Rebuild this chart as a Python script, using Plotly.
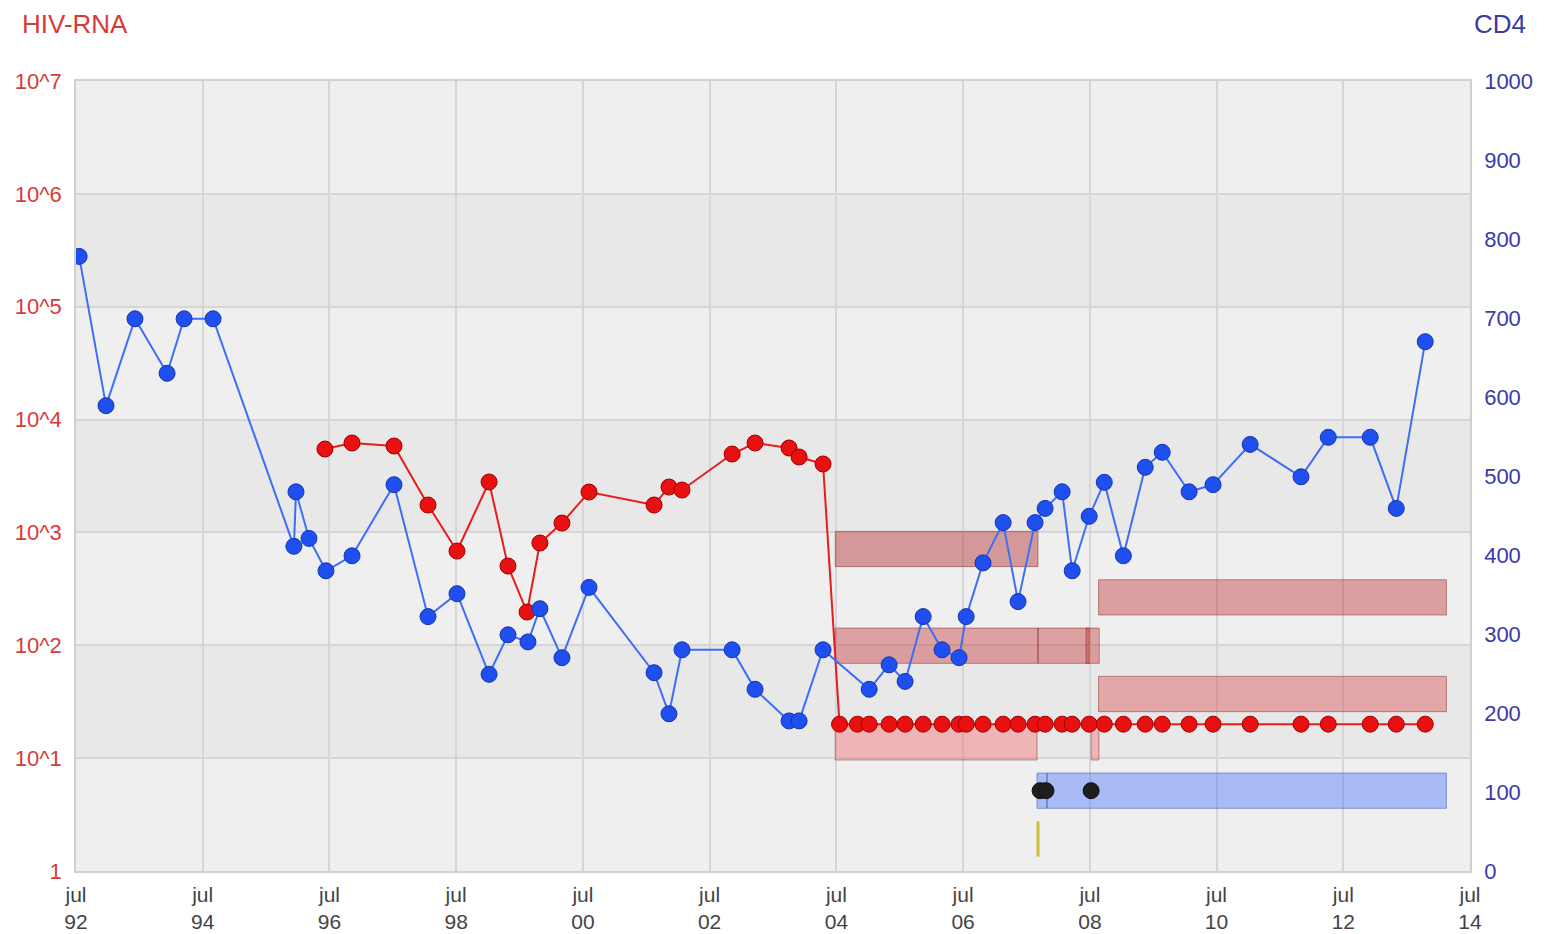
import plotly.graph_objects as go

# ---------------- data ----------------
cd4_dates = ["1992-07-19", "1992-12-21", "1993-06-06", "1993-12-08", "1994-03-16", "1994-08-30",
             "1995-12-09", "1995-12-21", "1996-03-05", "1996-06-11", "1996-11-08", "1997-07-08",
             "1998-01-20", "1998-07-06", "1999-01-07", "1999-04-26", "1999-08-19", "1999-10-27",
             "2000-03-02", "2000-08-05", "2001-08-15", "2001-11-09", "2002-01-23", "2002-11-08",
             "2003-03-20", "2003-10-02", "2003-11-29", "2004-04-15", "2005-01-06", "2005-05-01",
             "2005-08-01", "2005-11-13", "2006-03-02", "2006-06-08", "2006-07-19", "2006-10-24",
             "2007-02-17", "2007-05-14", "2007-08-20", "2007-10-17", "2008-01-23", "2008-03-21",
             "2008-06-27", "2008-09-22", "2009-01-10", "2009-05-16", "2009-08-22", "2010-01-24",
             "2010-06-11", "2011-01-11", "2011-10-31", "2012-04-05", "2012-12-03", "2013-05-02",
             "2013-10-16"]
cd4_values = [778, 589, 699, 630, 699, 699,
              411, 480, 421, 380, 399, 489,
              322, 351, 249, 299, 290, 332,
              270, 359, 251, 199, 280, 280,
              230, 190, 190, 280, 230, 261,
              240, 322, 280, 270, 322, 390,
              441, 341, 441, 459, 480, 380,
              449, 492, 399, 511, 530, 480,
              489, 540, 499, 549, 549, 459,
              670]

rna_dates = ["1996-06-05", "1996-11-08", "1997-07-08", "1998-01-20", "1998-07-06", "1999-01-07",
             "1999-04-26", "1999-08-14", "1999-10-27", "2000-03-02", "2000-08-05", "2001-08-15",
             "2001-11-09", "2002-01-23", "2002-11-08", "2003-03-20", "2003-10-02", "2003-11-29",
             "2004-04-15", "2004-07-19", "2004-10-30", "2005-01-06", "2005-05-01", "2005-08-01",
             "2005-11-13", "2006-03-02", "2006-06-08", "2006-07-19", "2006-10-24", "2007-02-17",
             "2007-05-14", "2007-08-20", "2007-10-17", "2008-01-23", "2008-03-21", "2008-06-27",
             "2008-09-22", "2009-01-10", "2009-05-16", "2009-08-22", "2010-01-24", "2010-06-11",
             "2011-01-11", "2011-10-31", "2012-04-05", "2012-12-03", "2013-05-02", "2013-10-16"]
rna_values = [5480, 6200, 5830, 1750, 684, 2800,
              504, 197, 806, 1211, 2280, 1750,
              2525, 2375, 4950, 6200, 5600, 4660,
              4040, 20, 20, 20, 20, 20,
              20, 20, 20, 20, 20, 20,
              20, 20, 20, 20, 20, 20,
              20, 20, 20, 20, 20, 20,
              20, 20, 20, 20, 20, 20]

# therapy bars: start, end, row (0 = bottom row)
bar_starts = ["2004-06-24", "2008-08-20", "2004-06-24", "2007-09-06", "2008-06-09", "2008-08-20",
              "2004-06-24", "2008-07-08", "2007-08-31", "2007-10-28"]
bar_ends = ["2007-09-06", "2014-02-15", "2007-09-06", "2008-06-27", "2008-08-24", "2014-02-15",
            "2007-08-31", "2008-08-22", "2007-10-28", "2014-02-15"]
bar_rows = [6, 5, 4, 4, 4, 3, 2, 2, 1, 1]
bar_fills = ["rgba(178,53,53,0.46)", "rgba(190,40,40,0.40)", "rgba(197,45,45,0.40)",
             "rgba(197,45,45,0.40)", "rgba(197,45,45,0.40)", "rgba(217,46,46,0.35)",
             "rgba(255,60,60,0.30)", "rgba(255,60,60,0.30)", "rgba(65,110,252,0.40)",
             "rgba(65,110,252,0.40)"]
bar_lines = ["rgba(110,30,30,0.45)"] * 8 + ["rgba(40,60,170,0.45)"] * 2

event_dates = ["2007-09-18", "2007-10-22", "2008-07-08"]
event_rows = [1, 1, 1]
marker_line_date = "2007-09-06"
marker_line_row = 0

tick_dates = ["1992-07-01", "1994-07-01", "1996-07-01", "1998-07-01", "2000-07-01", "2002-07-01",
              "2004-07-01", "2006-07-01", "2008-07-01", "2010-07-01", "2012-07-01", "2014-07-01"]
tick_text = ["jul<br>92", "jul<br>94", "jul<br>96", "jul<br>98", "jul<br>00", "jul<br>02",
             "jul<br>04", "jul<br>06", "jul<br>08", "jul<br>10", "jul<br>12", "jul<br>14"]
rna_tickvals = [1, 10, 100, 1000, 10000, 100000, 1000000, 10000000]
rna_ticktext = ["1", "10^1", "10^2", "10^3", "10^4", "10^5", "10^6", "10^7"]
cd4_tickvals = [0, 100, 200, 300, 400, 500, 600, 700, 800, 900, 1000]

FONT = "Liberation Sans, Arial, sans-serif"
RED_TXT = "#d83a3a"
BLUE_TXT = "#3a3aa8"
HALF = 0.365

fig = go.Figure()

# therapy bars on the hidden row axis (main y), drawn above gridlines, below data
for s, e, r, fc, lc in zip(bar_starts, bar_ends, bar_rows, bar_fills, bar_lines):
    fig.add_trace(go.Scatter(
        x=[s, e, e, s, s], y=[r - HALF, r - HALF, r + HALF, r + HALF, r - HALF],
        mode="lines", fill="toself", fillcolor=fc, line=dict(color=lc, width=1),
        yaxis="y", hoverinfo="skip", showlegend=False))

fig.add_trace(go.Scatter(
    x=[marker_line_date, marker_line_date],
    y=[marker_line_row - HALF, marker_line_row + HALF],
    mode="lines", line=dict(color="#c9c23a", width=3), yaxis="y",
    hoverinfo="skip", showlegend=False))

fig.add_trace(go.Scatter(
    x=event_dates, y=event_rows, mode="markers", yaxis="y",
    marker=dict(size=16, color="#1e1e1e", line=dict(color="#111", width=1)),
    hoverinfo="x", showlegend=False))

fig.add_trace(go.Scatter(
    x=rna_dates, y=rna_values, mode="lines+markers", yaxis="y2",
    line=dict(color="#e81c1c", width=2),
    marker=dict(size=16, color="#e81010", line=dict(color="#a00000", width=1)),
    hoverinfo="x+y", showlegend=False))

fig.add_trace(go.Scatter(
    x=cd4_dates, y=cd4_values, mode="lines+markers", yaxis="y3",
    line=dict(color="#3d6ef5", width=2),
    marker=dict(size=16, color="#1f4ff0", line=dict(color="#1535a8", width=1)),
    hoverinfo="x+y", showlegend=False))

shapes = []
# alternating decade background bands
for k in range(7):
    if k % 2 == 1:
        shapes.append(dict(type="rect", xref="paper", yref="paper", x0=0, x1=1,
                           y0=k / 7, y1=(k + 1) / 7, fillcolor="#e8e8e8",
                           line=dict(width=0), layer="below"))

fig.update_layout(
    width=1539, height=926,
    margin=dict(l=68, r=77, t=73, b=63, autoexpand=False),
    paper_bgcolor="white", plot_bgcolor="#efefef",
    font=dict(family=FONT, size=20),
    shapes=shapes,
    xaxis=dict(type="date", range=["1992-07-01", "2014-07-01"],
               tickvals=tick_dates, ticktext=tick_text, automargin=False,
               showgrid=True, gridcolor="#d6d6d6", gridwidth=1.5,
               showline=True, linecolor="#d0d0d0", linewidth=1.5, mirror=True,
               ticks="", ticklabelstandoff=4,
               tickfont=dict(family=FONT, size=21, color="#444444"),
               zeroline=False),
    yaxis=dict(range=[-0.662, 15.684], visible=False, showgrid=False, zeroline=False,
               automargin=False),
    yaxis2=dict(overlaying="y", side="left", type="log", range=[0, 7],
                tickvals=rna_tickvals, ticktext=rna_ticktext, automargin=False,
                showgrid=True, gridcolor="#d6d6d6", gridwidth=1.5,
                showline=True, linecolor="#d0d0d0", linewidth=1.5,
                ticks="", ticklabelstandoff=8,
                tickfont=dict(family=FONT, size=22, color=RED_TXT),
                zeroline=False),
    yaxis3=dict(overlaying="y", side="right", range=[0, 1000], tickvals=cd4_tickvals,
                automargin=False, showgrid=False, zeroline=False,
                showline=True, linecolor="#d0d0d0", linewidth=1.5,
                ticks="", ticklabelstandoff=8,
                tickfont=dict(family=FONT, size=22, color=BLUE_TXT)),
    annotations=[
        dict(text="HIV-RNA", xref="paper", yref="paper", x=0, xshift=-56, y=1.0, yshift=74,
             xanchor="left", yanchor="top", showarrow=False,
             font=dict(family=FONT, size=26, color=RED_TXT)),
        dict(text="CD4", xref="paper", yref="paper", x=1.0, xshift=2, y=1.0, yshift=74,
             xanchor="left", yanchor="top", showarrow=False,
             font=dict(family=FONT, size=26, color=BLUE_TXT)),
    ],
)

fig.write_html("out.html")
